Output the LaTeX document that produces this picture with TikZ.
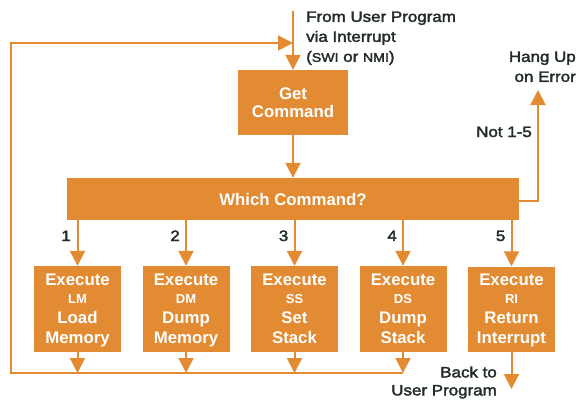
\documentclass[tikz,border=0pt]{standalone}
\usepackage{fontspec}
\setmainfont{Liberation Sans}
\newfontfamily\lblfont[FakeStretch=1.13,FakeBold=2.4]{Liberation Sans}
\usetikzlibrary{arrows.meta}
\definecolor{org}{RGB}{226,139,50}
\definecolor{ink}{RGB}{34,44,42}
\tikzset{
  box/.style={fill=org, draw=none, inner sep=0pt, text=white,
    font=\bfseries\fontsize{16.8}{19}\selectfont, align=center},
  exbox/.style={box, minimum width=87pt, minimum height=85.5pt},
  flow/.style={draw=org, line width=2pt, -{Triangle[length=15pt,width=15pt]}},
  lbl/.style={text=ink, inner sep=0pt, font=\lblfont\fontsize{15}{20}\selectfont}
}
\newcommand{\exectext}[3]{\parbox[c][85pt][t]{87pt}{\centering\fontsize{16.8}{20}\selectfont
  \rule{0pt}{19pt}Execute\\[-2pt]{\fontsize{13}{10}\selectfont #1}\\#2\\#3}}
\begin{document}
\begin{tikzpicture}[x=1pt,y=-1pt]
\useasboundingbox (0,0) rectangle (578,399);
% main boxes
\node[box, minimum width=110pt, minimum height=65pt] (get) at (293,102.5) {Get\\[-1pt]Command};
\node[box, minimum width=452pt, minimum height=42pt] (which) at (293,199) {Which Command?};
\node[exbox] (e1) at (77.5,308.75) {\exectext{LM}{Load}{Memory}};
\node[exbox] (e2) at (186,308.75) {\exectext{DM}{Dump}{Memory}};
\node[exbox] (e3) at (294.5,308.75) {\exectext{SS}{Set}{Stack}};
\node[exbox] (e4) at (403,308.75) {\exectext{DS}{Dump}{Stack}};
\node[exbox] (e5) at (511.5,309.25) {\exectext{RI}{Return}{Interrupt}};
% coordinates
\coordinate (in) at (293,11);
\coordinate (join) at (293,43);
\coordinate (bot) at (11,373);
\coordinate (hang) at (538,90);
\coordinate (back) at (511.5,389);
% connectors
\draw[flow] (in) -- (get.north);
\draw[flow] (get.south) -- (which.north);
\foreach \i in {1,...,5} {\draw[flow] (which.south -| e\i) -- (e\i.north);}
\foreach \i in {1,...,4} {\draw[flow] (e\i.south) -- (e\i.south |- bot);}
\draw[flow] (e4.south |- bot) -- (bot) |- (join);
\draw[flow] ([yshift=-2pt]which.east) -| (hang);
\draw[flow] (e5.south) -- (back);
% labels
\node[lbl, anchor=north west, align=left] (from) at (306,11.3)
  {From User Program\\via Interrupt\\({\fontsize{12.5}{11}\selectfont SWI} or {\fontsize{12.5}{11}\selectfont NMI})};
\node[lbl, anchor=north east, align=right] (hangtxt) at (576,51.3) {Hang Up\\on Error};
\node[lbl, anchor=base east] (not) at (532,137) {Not 1-5};
\node[lbl, anchor=north east, align=right, font=\lblfont\fontsize{15}{18}\selectfont] (backtxt) at (497,366.3) {Back to\\User Program};
\node[lbl, anchor=base east] (n1) at (71,241) {1};
\node[lbl, anchor=base east] (n2) at (180,241) {2};
\node[lbl, anchor=base east] (n3) at (288.5,241) {3};
\node[lbl, anchor=base east] (n4) at (397,241) {4};
\node[lbl, anchor=base east] (n5) at (505.5,241) {5};
\end{tikzpicture}
\end{document}
